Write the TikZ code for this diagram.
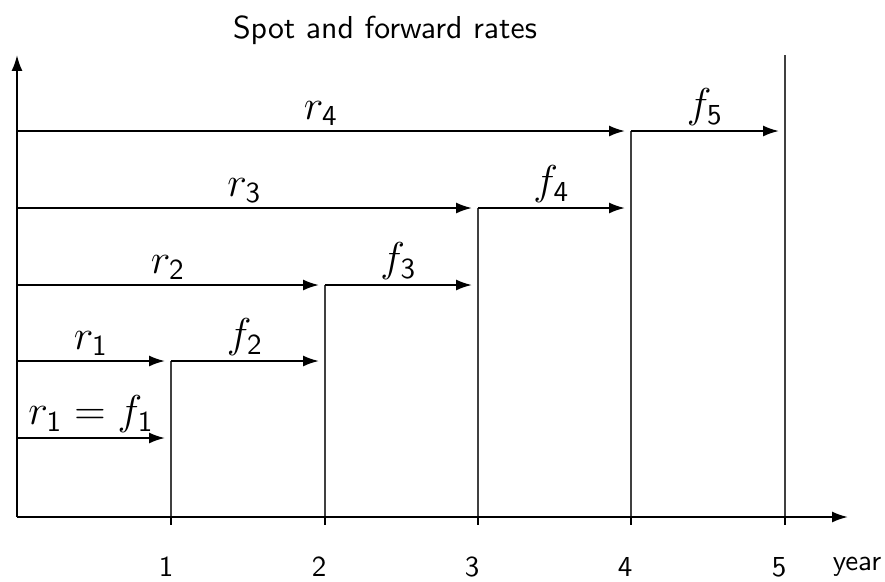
\documentclass[tikz,border=0pt]{standalone}
\usetikzlibrary{arrows.meta}
\tikzset{
  px/.style={x=0.345pt,y=-0.345pt},
  axis/.style={line width=0.7pt,-{Latex[length=5.5pt,width=3.8pt]}},
  rate/.style={line width=0.7pt,-{Latex[length=5.5pt,width=3.8pt]}},
  guide/.style={line width=0.4pt,black!75},
  tick/.style={line width=0.7pt},
  lbl/.style={above,inner sep=1.4pt,font=\Large},
  ticklbl/.style={font=\sffamily}
}
\begin{document}
\begin{tikzpicture}[px]
\useasboundingbox (0,0) rectangle (885,581);
% key coordinates
\coordinate (o) at (17,517);
\coordinate (yt) at (17,55);
\coordinate (xt) at (848,517);
\foreach \i/\x in {1/171,2/325,3/478,4/631,5/785}{
  \coordinate (t\i) at (\x,517);
  \coordinate (b\i) at (\x,525);
}
% guide lines
\coordinate (g1) at (171,361);
\coordinate (g2) at (325,285);
\coordinate (g3) at (478,208);
\coordinate (g4) at (631,131);
\coordinate (g5) at (785,55);
\foreach \i in {1,...,5}{
  \draw[guide] (t\i) -- (g\i);
  \draw[tick] (t\i) -- (b\i);
}
% axes
\draw[axis] (o) -- (yt);
\draw[axis] (o) -- (xt);
% level starts on the y axis
\coordinate (a0) at (17,438);
\coordinate (a1) at (17,361);
\coordinate (a2) at (17,285);
\coordinate (a3) at (17,208);
\coordinate (a4) at (17,131);
% arrow ends
\coordinate (e0) at (165,438);
\coordinate (e1) at (165,361);
\coordinate (e2) at (319,361);
\coordinate (e2r) at (319,285);
\coordinate (e3) at (472,285);
\coordinate (e3r) at (472,208);
\coordinate (e4) at (625,208);
\coordinate (e4r) at (625,131);
\coordinate (e5) at (779,131);
% spot rate arrows
\draw[rate] (a0) -- node[lbl] (l0) {$r_{\mathsf{1}}=f_{\mathsf{1}}$} (e0);
\draw[rate] (a1) -- node[lbl] (l1) {$r_{\mathsf{1}}$} (e1);
\draw[rate] (a2) -- node[lbl] (l2) {$r_{\mathsf{2}}$} (e2r);
\draw[rate] (a3) -- node[lbl] (l3) {$r_{\mathsf{3}}$} (e3r);
\draw[rate] (a4) -- node[lbl] (l4) {$r_{\mathsf{4}}$} (e4r);
% forward rate arrows
\draw[rate] (g1) -- node[lbl] (m2) {$f_{\mathsf{2}}$} (e2);
\draw[rate] (g2) -- node[lbl] (m3) {$f_{\mathsf{3}}$} (e3);
\draw[rate] (g3) -- node[lbl] (m4) {$f_{\mathsf{4}}$} (e4);
\draw[rate] (g4) -- node[lbl] (m5) {$f_{\mathsf{5}}$} (e5);
% tick labels
\foreach \i/\x in {1/166,2/319,3/472,4/625,5/779}{
  \node[ticklbl] (n\i) at (\x,567) {\i};
}
\node[ticklbl] (year) at (857,567) {year};
\node[font=\sffamily\fontsize{10.95}{13}\selectfont] (title) at (385,30) {Spot and forward rates};
\end{tikzpicture}
\end{document}
